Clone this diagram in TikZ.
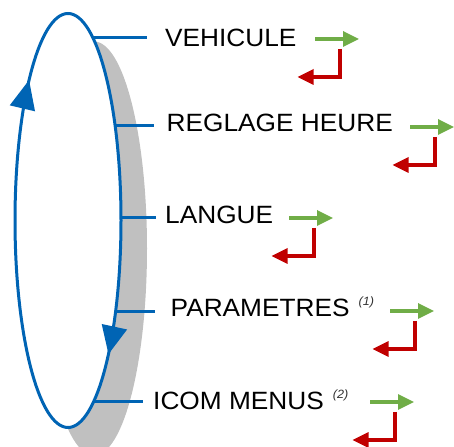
\documentclass[tikz,border=0pt]{standalone}
\usepackage{fontspec}
\setmainfont{Liberation Sans}
\newfontfamily\labelfont[FakeStretch=1.05]{Liberation Sans}
\usetikzlibrary{arrows.meta,calc}
\definecolor{ellblue}{RGB}{0,100,180}
\definecolor{shadowgray}{RGB}{192,192,192}
\definecolor{okgreen}{RGB}{112,173,71}
\definecolor{backred}{RGB}{192,0,0}
\definecolor{notegray}{RGB}{50,50,50}
\tikzset{
  ring/.style={draw=ellblue, line width=3pt},
  leader/.style={draw=ellblue, line width=3pt},
  ringtip/.style={fill=ellblue},
  label/.style={anchor=base west, inner sep=0pt, font=\labelfont\fontsize{25}{25}\selectfont},
  fwd/.style={draw=okgreen, line width=3.3pt, -{Triangle[length=16pt,width=15pt]}},
  back/.style={draw=backred, line width=3.3pt, -{Triangle[length=16pt,width=15pt]}},
  pics/navpair/.style={code={
    \coordinate (-g0) at (0,0);
    \coordinate (-g1) at (44,0);
    \coordinate (-r0) at (25,-10);
    \coordinate (-r1) at (25,-38);
    \coordinate (-r2) at (-17.5,-38);
    \draw[fwd] (-g0) -- (-g1);
    \draw[back] (-r0) -- (-r1) -- (-r2);
  }}
}
\newcommand{\notemark}[1]{\hspace{9pt}\raisebox{11pt}{\fontsize{12}{12}\selectfont\itshape\color{notegray}(#1)}}
\begin{document}
\begin{tikzpicture}[x=1pt,y=1pt]
  \path[use as bounding box, clip] (0,0) rectangle (454,446);
  % shadow and ring
  \coordinate (c) at (68,225.5);
  \coordinate (cs) at (94,197.5);
  \fill[shadowgray] (cs) ellipse [x radius=53, y radius=207];
  \filldraw[ring, fill=white] (c) ellipse [x radius=53, y radius=207];
  % direction arrowheads on the ring
  \coordinate (up) at ($(c)+(137.3:53 and 207)$);
  \coordinate (dn) at ($(c)+(-40.2:53 and 207)$);
  \fill[ringtip, shift={(up)}, rotate=76.7] (0,0) -- (-29,13) -- (-29,-13) -- cycle;
  \fill[ringtip, shift={(dn)}, rotate=257.8] (0,0) -- (-28,13) -- (-28,-13) -- cycle;
  % points on the ring
  \coordinate (e1) at ($(c)+(61.9:53 and 207)$);
  \coordinate (e2) at ($(c)+(27.2:53 and 207)$);
  \coordinate (e3) at ($(c)+(0.7:53 and 207)$);
  \coordinate (e4) at ($(c)+(-26.2:53 and 207)$);
  \coordinate (e5) at ($(c)+(-60.7:53 and 207)$);
  % leader ends
  \coordinate (x1) at (147,0);
  \coordinate (x2) at (154,0);
  \coordinate (x3) at (156,0);
  \coordinate (x4) at (155,0);
  \coordinate (x5) at (143,0);
  \draw[leader] (e1) -- (e1 -| x1);
  \draw[leader] (e2) -- (e2 -| x2);
  \draw[leader] (e3) -- (e3 -| x3);
  \draw[leader] (e4) -- (e4 -| x4);
  \draw[leader] (e5) -- (e5 -| x5);
  % labels
  \node[label] (t1) at (165,399.1) {VEHICULE};
  \node[label] (t2) at (166.5,314.1) {REGLAGE HEURE};
  \node[label] (t3) at (165,222) {LANGUE};
  \node[label] (t4) at (170.5,129.6) {PARAMETRES\notemark{1}};
  \node[label] (t5) at (153,36.4) {ICOM MENUS\notemark{2}};
  % navigation arrows
  \pic (p1) at (315,407) {navpair};
  \pic (p2) at (410,319) {navpair};
  \pic (p3) at (289,228) {navpair};
  \pic (p4) at (390,135) {navpair};
  \pic (p5) at (370,44) {navpair};
\end{tikzpicture}
\end{document}
